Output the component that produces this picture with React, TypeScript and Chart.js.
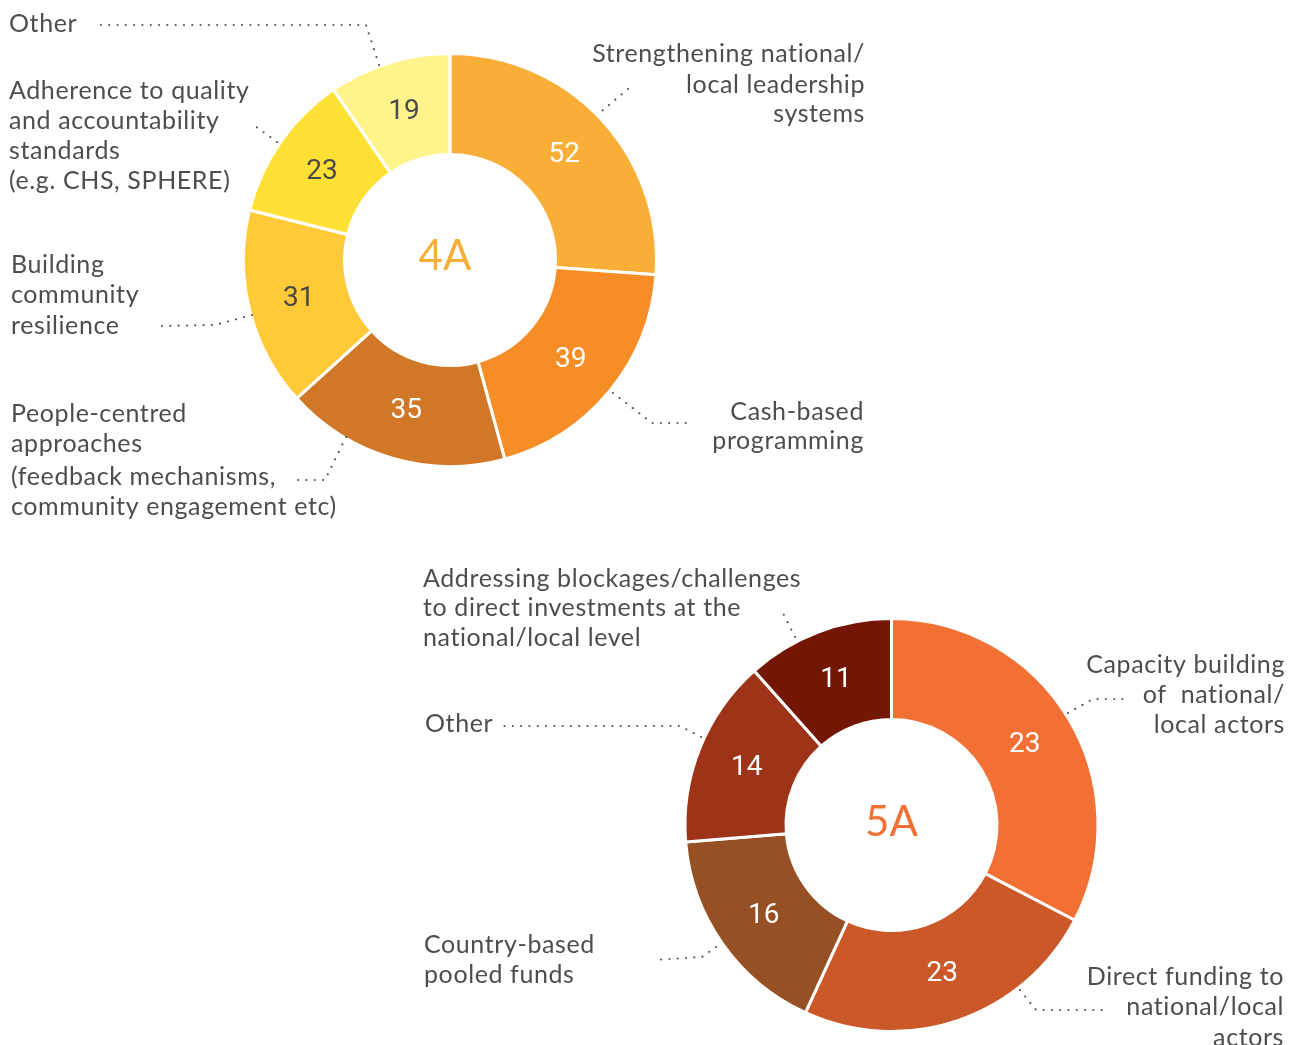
import React, { useEffect, useRef } from "react";
import { Chart, registerables } from "chart.js";

Chart.register(...registerables);

const PAGE_W = 1298;
const PAGE_H = 1045;

// ---------- Chart 4A ----------
const categories4A = [
  "Strengthening national/local leadership systems",
  "Cash-based programming",
  "People-centred approaches (feedback mechanisms, community engagement etc)",
  "Building community resilience",
  "Adherence to quality and accountability standards (e.g. CHS, SPHERE)",
  "Other",
];
const values4A = [52, 39, 35, 31, 23, 19];
const printed4A = ["52", "39", "35", "31", "23", "19"];
const colors4A = ["#F9AE38", "#F68D26", "#D07828", "#FFC937", "#FFE135", "#FFF48C"];
const numberColors4A = ["#ffffff", "#ffffff", "#ffffff", "#4a4a4a", "#4a4a4a", "#4a4a4a"];

// ---------- Chart 5A ----------
const categories5A = [
  "Capacity building of national/local actors",
  "Direct funding to national/local actors",
  "Country-based pooled funds",
  "Other",
  "Addressing blockages/challenges to direct investments at the national/local level",
];
// slice sizes as drawn in the picture (first slice is drawn larger than its printed "23")
const values5A = [31, 23, 16, 14, 11];
const printed5A = ["23", "23", "16", "14", "11"];
const colors5A = ["#F37035", "#CA5829", "#975023", "#9D3317", "#741604"];
const numberColors5A = ["#ffffff", "#ffffff", "#ffffff", "#ffffff", "#ffffff"];

type Pt = [number, number];
type Callout = {
  lines: string[];
  x: number;
  baselines: number[];
  align: "left" | "right";
  leader: Pt[];
};

const callouts4A: Callout[] = [
  { lines: ["Strengthening national/", "local leadership", "systems"], x: 865, baselines: [62, 93, 122], align: "right", leader: [[628, 89], [602, 111]] },
  { lines: ["Cash-based", "programming"], x: 864, baselines: [420, 449], align: "right", leader: [[613, 393], [652, 423], [687, 423]] },
  { lines: ["People-centred", "approaches", "(feedback mechanisms,", "community engagement etc)"], x: 11, baselines: [422, 452, 485, 515], align: "left", leader: [[346, 437], [325, 480], [298, 480]] },
  { lines: ["Building", "community", "resilience"], x: 11, baselines: [273, 303, 334], align: "left", leader: [[252, 315], [215, 325], [161, 326]] },
  { lines: ["Adherence to quality", "and accountability", "standards", "(e.g. CHS, SPHERE)"], x: 9, baselines: [99, 129, 159, 189], align: "left", leader: [[277, 142], [255, 126]] },
  { lines: ["Other"], x: 9, baselines: [31.5], align: "left", leader: [[379, 65], [366, 25], [100, 25]] },
];

const callouts5A: Callout[] = [
  { lines: ["Capacity building", "of  national/", "local actors"], x: 1285, baselines: [673, 703, 733], align: "right", leader: [[1068, 713], [1093, 699], [1130, 699]] },
  { lines: ["Direct funding to", "national/local", "actors"], x: 1284, baselines: [985, 1015, 1046], align: "right", leader: [[1020, 990], [1036, 1010], [1102, 1010]] },
  { lines: ["Country-based", "pooled funds"], x: 424, baselines: [953, 983], align: "left", leader: [[716, 947], [702, 957], [653, 960]] },
  { lines: ["Other"], x: 425, baselines: [732], align: "left", leader: [[701, 737], [680, 726], [503, 726]] },
  { lines: ["Addressing blockages/challenges", "to direct investments at the", "national/local level"], x: 423, baselines: [587, 616, 646], align: "left", leader: [[795, 637], [783, 613]] },
];

function drawDots(ctx: CanvasRenderingContext2D, pts: Pt[], spacing: number) {
  let carry = 0;
  ctx.beginPath();
  const put = (x: number, y: number) => {
    ctx.moveTo(x + 1.1, y);
    ctx.arc(x, y, 1.1, 0, Math.PI * 2);
  };
  put(pts[0][0], pts[0][1]);
  for (let i = 0; i < pts.length - 1; i++) {
    const [x0, y0] = pts[i];
    const [x1, y1] = pts[i + 1];
    const len = Math.hypot(x1 - x0, y1 - y0);
    let d = spacing - carry;
    while (d <= len) {
      put(x0 + ((x1 - x0) * d) / len, y0 + ((y1 - y0) * d) / len);
      d += spacing;
    }
    carry = len - (d - spacing);
  }
  ctx.fill();
}

const decorPlugin = {
  id: "donutDecor",
  afterDatasetsDraw(chart: any, _args: any, opts: any) {
    const ctx: any = chart.ctx;
    const meta = chart.getDatasetMeta(0);
    ctx.save();
    // numbers inside slices
    ctx.font = "28px Roboto";
    ctx.textAlign = "center";
    ctx.textBaseline = "middle";
    meta.data.forEach((arc: any, i: number) => {
      const p = arc.getCenterPoint();
      ctx.fillStyle = opts.numberColors[i];
      ctx.fillText(opts.printed[i], p.x, p.y + 1);
    });
    // centre title
    const a0: any = meta.data[0];
    ctx.font = "42px Lato";
    ctx.fillStyle = opts.titleColor;
    ctx.textBaseline = "alphabetic";
    ctx.fillText(opts.title, a0.x + opts.titleDx, a0.y + opts.titleDy);
    // callouts
    ctx.fillStyle = "#4d4d4d";
    ctx.font = "25px Lato";
    if ("letterSpacing" in ctx) ctx.letterSpacing = "0.6px";
    (opts.callouts as Callout[]).forEach((c) => {
      ctx.textAlign = c.align;
      c.lines.forEach((line, k) => ctx.fillText(line, c.x, c.baselines[k]));
    });
    if ("letterSpacing" in ctx) ctx.letterSpacing = "0px";
    ctx.fillStyle = "#555555";
    (opts.callouts as Callout[]).forEach((c) => drawDots(ctx, c.leader, 8.3));
    ctx.restore();
  },
};

function makeConfig(
  labels: string[],
  values: number[],
  colors: string[],
  padding: { left: number; top: number; right: number; bottom: number },
  decor: any
): any {
  return {
    type: "doughnut",
    data: {
      labels,
      datasets: [
        {
          data: values,
          backgroundColor: colors,
          borderColor: "#ffffff",
          borderWidth: 3,
          hoverOffset: 0,
        },
      ],
    },
    options: {
      responsive: false,
      animation: false,
      radius: 206.5,
      cutout: "51.1%",
      rotation: 0,
      layout: { padding },
      events: [],
      plugins: {
        legend: { display: false },
        tooltip: { enabled: false },
        donutDecor: decor,
      },
    },
    plugins: [decorPlugin],
  };
}

export default function App() {
  const ref4A = useRef<HTMLCanvasElement | null>(null);
  const ref5A = useRef<HTMLCanvasElement | null>(null);

  useEffect(() => {
    document.body.style.margin = "0";
    const c1 = new Chart(
      ref4A.current as HTMLCanvasElement,
      makeConfig(categories4A, values4A, colors4A, { left: 240, top: 50, right: PAGE_W - 660, bottom: PAGE_H - 470 }, {
        printed: printed4A,
        numberColors: numberColors4A,
        title: "4A",
        titleColor: "#F9AE38",
        titleDx: -5,
        titleDy: 10,
        callouts: callouts4A,
      })
    );
    const c2 = new Chart(
      ref5A.current as HTMLCanvasElement,
      makeConfig(categories5A, values5A, colors5A, { left: 681.5, top: 615, right: PAGE_W - 1101.5, bottom: PAGE_H - 1035 }, {
        printed: printed5A,
        numberColors: numberColors5A,
        title: "5A",
        titleColor: "#F37035",
        titleDx: 0,
        titleDy: 11,
        callouts: callouts5A,
      })
    );
    return () => {
      c1.destroy();
      c2.destroy();
    };
  }, []);

  const canvasStyle: React.CSSProperties = { position: "absolute", left: 0, top: 0, width: PAGE_W, height: PAGE_H };
  return (
    <div style={{ position: "absolute", left: 0, top: 0, width: PAGE_W, height: PAGE_H, overflow: "hidden", background: "#fff" }}>
      <canvas ref={ref4A} width={PAGE_W} height={PAGE_H} style={canvasStyle} />
      <canvas ref={ref5A} width={PAGE_W} height={PAGE_H} style={canvasStyle} />
    </div>
  );
}
